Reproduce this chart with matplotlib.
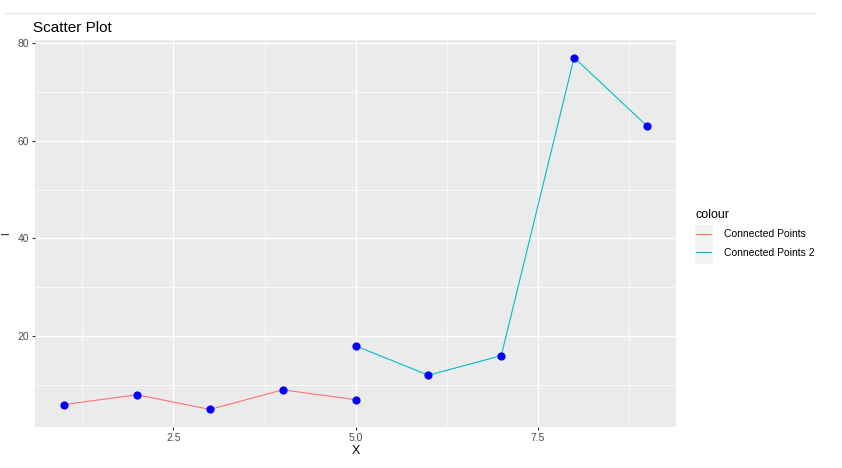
import matplotlib
matplotlib.use("Agg")
import matplotlib.pyplot as plt
from matplotlib.lines import Line2D
from matplotlib.patches import Rectangle

# data
x1 = [1, 2, 3, 4, 5]
y1 = [6, 8, 5, 9, 7]
x2 = [5, 6, 7, 8, 9]
y2 = [18, 12, 16, 77, 63]
series_names = ["Connected Points", "Connected Points 2"]
x_ticks = [2.5, 5.0, 7.5]
y_ticks = [20, 40, 60, 80]

plt.rcParams['font.family'] = ['Liberation Sans', 'DejaVu Sans']

fig = plt.figure(figsize=(8.42, 4.68), dpi=100)
ax = fig.add_axes([0.0416, 0.0876, 0.7614, 0.827])

# ggplot-like panel
ax.set_facecolor("#EBEBEB")
for s in ax.spines.values():
    s.set_visible(False)
ax.set_xlim(0.6, 9.4)
ax.set_ylim(1.4, 80.6)
ax.set_xticks(x_ticks)
ax.set_xticklabels(["2.5", "5.0", "7.5"])
ax.set_yticks(y_ticks)
ax.set_xticks([1.25, 3.75, 6.25, 8.75], minor=True)
ax.set_yticks([10, 30, 50, 70], minor=True)
ax.grid(True, which="major", color="white", linewidth=1.0)
ax.grid(True, which="minor", color="white", linewidth=0.5)
ax.set_axisbelow(True)
ax.tick_params(which="major", colors="#333333", labelcolor="#4D4D4D",
               labelsize=7.5, length=2.5, width=0.8, pad=2)
ax.tick_params(which="minor", length=0)

ax.plot(x1, y1, color="#F8766D", linewidth=0.8, label=series_names[0])
ax.plot(x2, y2, color="#00BFC4", linewidth=0.8, label=series_names[1])
ax.scatter(x1 + x2, y1 + y2, color="blue", s=24, zorder=3)

ax.set_title("Scatter Plot", loc="left", fontsize=11, pad=6, x=-0.003)
ax.set_xlabel("X", fontsize=9, labelpad=1)
ax.set_ylabel("I", fontsize=7, labelpad=4)

# grey key background of the legend
fig.add_artist(Rectangle((695 / 842, 1 - 264 / 468), 18 / 842, 39 / 468,
                         facecolor="#F2F2F2", edgecolor="none",
                         transform=fig.transFigure, zorder=0))

leg = ax.legend(loc="center left", bbox_to_anchor=(1.016, 0.5), frameon=False,
                title="colour", fontsize=7.5, title_fontsize=9,
                handlelength=1.5, handletextpad=1.2, labelspacing=0.8)
leg._legend_box.align = "left"

# thin grey line at top of screenshot
fig.add_artist(Line2D([0.006, 0.968], [0.972, 0.972], color="#E6E6E6",
                      linewidth=1, transform=fig.transFigure))

fig.savefig("out.png", dpi=100)
